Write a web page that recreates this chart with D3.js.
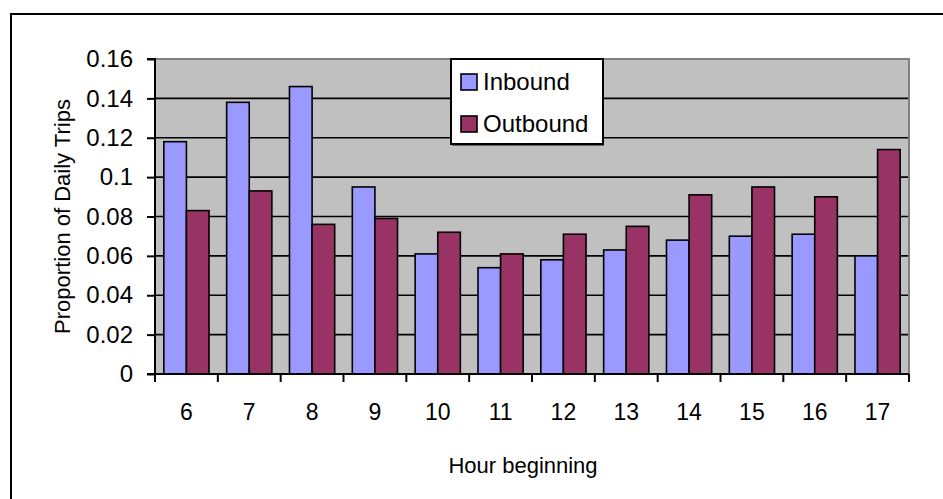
<!DOCTYPE html>
<html>
<head>
<meta charset="utf-8">
<script src="https://cdn.jsdelivr.net/npm/d3@7"></script>
<style>
  html, body { margin: 0; padding: 0; background: #fff; }
  svg { display: block; font-family: "Liberation Sans", Arial, sans-serif; }
</style>
</head>
<body>
<svg id="chart" width="943" height="499"></svg>
<script>
// Hour of day each group starts at
const hours = ["6", "7", "8", "9", "10", "11", "12", "13", "14", "15", "16", "17"];
// Share of daily trips per hour
const inbound = [0.118, 0.138, 0.146, 0.095, 0.061, 0.054, 0.058, 0.063, 0.068, 0.070, 0.071, 0.060];
const outbound = [0.083, 0.093, 0.076, 0.079, 0.072, 0.061, 0.071, 0.075, 0.091, 0.095, 0.090, 0.114];
const seriesNames = ["Inbound", "Outbound"];
const yTicks = [0, 0.02, 0.04, 0.06, 0.08, 0.1, 0.12, 0.14, 0.16];

const colors = { Inbound: "#9999FF", Outbound: "#993366" };
const svg = d3.select("#chart");
const FONT = "Liberation Sans, Arial, sans-serif";

// Chart frame
svg.append("rect")
  .attr("x", 11).attr("y", 14)
  .attr("width", 960).attr("height", 520)
  .attr("fill", "#fff").attr("stroke", "#000").attr("stroke-width", 2);

const plot = { left: 155, right: 909, top: 59, bottom: 374 };

const x = d3.scaleBand().domain(hours).range([plot.left, plot.right]).paddingInner(0).paddingOuter(0);
const inner = d3.scaleBand().domain(seriesNames)
  .range([0, x.bandwidth()]).paddingInner(0).paddingOuter(0.39);
const y = d3.scaleLinear().domain([0, 0.16]).range([plot.bottom, plot.top]);

// Plot background
svg.append("rect")
  .attr("x", plot.left).attr("y", plot.top)
  .attr("width", plot.right - plot.left).attr("height", plot.bottom - plot.top)
  .attr("fill", "#C0C0C0");

// Horizontal gridlines
svg.append("g").selectAll("line")
  .data(yTicks.filter(d => d > 0 && d < 0.16))
  .join("line")
  .attr("x1", plot.left).attr("x2", plot.right)
  .attr("y1", d => y(d)).attr("y2", d => y(d))
  .attr("stroke", "#000").attr("stroke-width", 1.6);

// Plot border (top/right)
svg.append("path")
  .attr("d", `M${plot.left},${plot.top}H${plot.right}V${plot.bottom}`)
  .attr("fill", "none").attr("stroke", "#808080").attr("stroke-width", 2);

// Bars
const rows = hours.map((h, i) => ({ hour: h, Inbound: inbound[i], Outbound: outbound[i] }));
const groups = svg.append("g").selectAll("g")
  .data(rows).join("g")
  .attr("transform", d => `translate(${x(d.hour)},0)`);
groups.selectAll("rect")
  .data(d => seriesNames.map(k => ({ key: k, value: d[k] })))
  .join("rect")
  .attr("x", d => inner(d.key))
  .attr("y", d => y(d.value))
  .attr("width", inner.bandwidth())
  .attr("height", d => y(0) - y(d.value))
  .attr("fill", d => colors[d.key])
  .attr("stroke", "#000").attr("stroke-width", 1.6);

// Y axis
const yAxis = svg.append("g")
  .attr("transform", `translate(${plot.left},0)`)
  .call(d3.axisLeft(y).tickValues(yTicks).tickSize(8).tickPadding(14)
    .tickFormat(d => d === 0 ? "0" : String(+d.toFixed(2))));
yAxis.select(".domain").attr("stroke", "#000").attr("stroke-width", 2)
  .attr("d", `M-8,${plot.top}H0V${plot.bottom}H-8`);
yAxis.selectAll(".tick line").attr("stroke", "#000").attr("stroke-width", 2);
yAxis.selectAll(".tick text").attr("font-size", 24).attr("fill", "#000")
  .attr("font-family", FONT);

// X axis
const xAxis = svg.append("g")
  .attr("transform", `translate(0,${plot.bottom})`)
  .call(d3.axisBottom(x).tickSize(0).tickPadding(30));
xAxis.select(".domain").attr("stroke", "#000").attr("stroke-width", 2)
  .attr("d", `M${plot.left},0H${plot.right}`);
xAxis.selectAll(".tick text").attr("font-size", 23).attr("fill", "#000")
  .attr("font-family", FONT);
xAxis.append("g").selectAll("line")
  .data(d3.range(hours.length + 1))
  .join("line")
  .attr("x1", i => plot.left + i * x.step()).attr("x2", i => plot.left + i * x.step())
  .attr("y1", 0).attr("y2", 8)
  .attr("stroke", "#000").attr("stroke-width", 2);

// Axis titles
svg.append("text")
  .attr("x", 523).attr("y", 473)
  .attr("text-anchor", "middle").attr("font-size", 22)
  .text("Hour beginning");
svg.append("text")
  .attr("transform", `translate(70,${(plot.top + plot.bottom) / 2}) rotate(-90)`)
  .attr("text-anchor", "middle").attr("font-size", 22)
  .text("Proportion of Daily Trips");

// Legend
const legend = svg.append("g").attr("transform", "translate(451,59)");
legend.append("rect")
  .attr("x", 1).attr("y", 1.5).attr("width", 152).attr("height", 85)
  .attr("fill", "#000");
legend.append("rect")
  .attr("width", 152).attr("height", 85)
  .attr("fill", "#fff").attr("stroke", "#000").attr("stroke-width", 2);
seriesNames.forEach((name, i) => {
  const cy = 23 + i * 42;
  legend.append("rect")
    .attr("x", 10).attr("y", cy - 8).attr("width", 16).attr("height", 16)
    .attr("fill", colors[name]).attr("stroke", "#000").attr("stroke-width", 1.6);
  legend.append("text")
    .attr("x", 32).attr("y", cy).attr("dy", "0.35em")
    .attr("font-size", 24)
    .text(name);
});
</script>
</body>
</html>
